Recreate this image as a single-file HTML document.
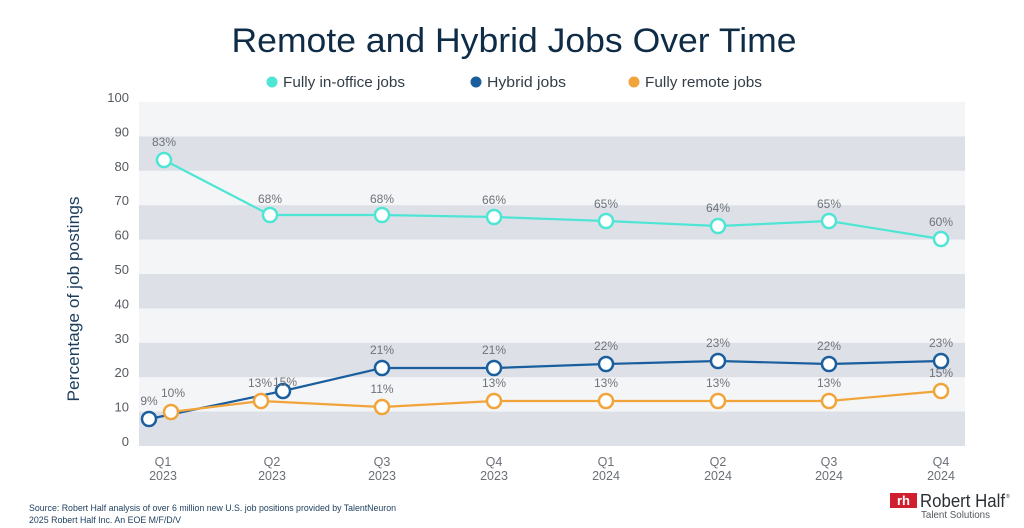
<!DOCTYPE html>
<html><head><meta charset="utf-8"><style>
html,body{margin:0;padding:0;background:#fff;}
svg{display:block;font-family:"Liberation Sans",sans-serif;}
</style></head><body>
<svg width="1024" height="528" viewBox="0 0 1024 528" xmlns="http://www.w3.org/2000/svg">
<rect width="1024" height="528" fill="#fff"/>
<text x="514" y="52" text-anchor="middle" font-size="34" fill="#0f2c47" textLength="565" lengthAdjust="spacingAndGlyphs">Remote and Hybrid Jobs Over Time</text>
<circle cx="272" cy="82" r="5.5" fill="#4fe5d4"/>
<text x="283" y="87" font-size="15" fill="#333d47" textLength="122" lengthAdjust="spacingAndGlyphs">Fully in-office jobs</text>
<circle cx="476" cy="82" r="5.5" fill="#1a5e9e"/>
<text x="487" y="87" font-size="15" fill="#333d47" textLength="79" lengthAdjust="spacingAndGlyphs">Hybrid jobs</text>
<circle cx="634" cy="82" r="5.5" fill="#f0a43a"/>
<text x="645" y="87" font-size="15" fill="#333d47" textLength="117" lengthAdjust="spacingAndGlyphs">Fully remote jobs</text>
<g>
<rect x="139" y="102" width="826" height="344" fill="#f4f5f7"/>
<rect x="139" y="136.4" width="826" height="34.4" fill="#dde1e7"/>
<rect x="139" y="205.2" width="826" height="34.4" fill="#dde1e7"/>
<rect x="139" y="274" width="826" height="34.4" fill="#dde1e7"/>
<rect x="139" y="342.8" width="826" height="34.4" fill="#dde1e7"/>
<rect x="139" y="411.6" width="826" height="34.4" fill="#dde1e7"/>
</g>
<g font-size="13" fill="#555a60" text-anchor="end">
<text x="129" y="102">100</text>
<text x="129" y="136.4">90</text>
<text x="129" y="170.8">80</text>
<text x="129" y="205.2">70</text>
<text x="129" y="239.6">60</text>
<text x="129" y="274">50</text>
<text x="129" y="308.4">40</text>
<text x="129" y="342.8">30</text>
<text x="129" y="377.2">20</text>
<text x="129" y="411.6">10</text>
<text x="129" y="446">0</text>
</g>
<text transform="translate(79,299) rotate(-90)" text-anchor="middle" font-size="17" fill="#1c3d5c" textLength="205" lengthAdjust="spacingAndGlyphs">Percentage of job postings</text>
<g font-size="12.5" fill="#6b7077" text-anchor="middle">
<text x="163" y="466">Q1</text><text x="163" y="480">2023</text>
<text x="272" y="466">Q2</text><text x="272" y="480">2023</text>
<text x="382" y="466">Q3</text><text x="382" y="480">2023</text>
<text x="494" y="466">Q4</text><text x="494" y="480">2023</text>
<text x="606" y="466">Q1</text><text x="606" y="480">2024</text>
<text x="718" y="466">Q2</text><text x="718" y="480">2024</text>
<text x="829" y="466">Q3</text><text x="829" y="480">2024</text>
<text x="941" y="466">Q4</text><text x="941" y="480">2024</text>
</g>
<polyline fill="none" stroke="#4fe5d4" stroke-width="2.2" points="164,160 270,215 382,215 494,217 606,221 718,226 829,221 941,239"/>
<polyline fill="none" stroke="#1a5e9e" stroke-width="2.2" points="149,419 283,391 382,368 494,368 606,364 718,361 829,364 941,361"/>
<polyline fill="none" stroke="#f0a43a" stroke-width="2.2" points="171,412 261,401 382,407 494,401 606,401 718,401 829,401 941,391"/>
<g fill="#fff" stroke="#4fe5d4" stroke-width="2.5">
<circle cx="164" cy="160" r="7"/><circle cx="270" cy="215" r="7"/><circle cx="382" cy="215" r="7"/><circle cx="494" cy="217" r="7"/><circle cx="606" cy="221" r="7"/><circle cx="718" cy="226" r="7"/><circle cx="829" cy="221" r="7"/><circle cx="941" cy="239" r="7"/>
</g>
<g fill="#fff" stroke="#f0a43a" stroke-width="2.5">
<circle cx="171" cy="412" r="7"/><circle cx="261" cy="401" r="7"/><circle cx="382" cy="407" r="7"/><circle cx="494" cy="401" r="7"/><circle cx="606" cy="401" r="7"/><circle cx="718" cy="401" r="7"/><circle cx="829" cy="401" r="7"/><circle cx="941" cy="391" r="7"/>
</g>
<g fill="#fff" stroke="#1a5e9e" stroke-width="2.5">
<circle cx="149" cy="419" r="7"/><circle cx="283" cy="391" r="7"/><circle cx="382" cy="368" r="7"/><circle cx="494" cy="368" r="7"/><circle cx="606" cy="364" r="7"/><circle cx="718" cy="361" r="7"/><circle cx="829" cy="364" r="7"/><circle cx="941" cy="361" r="7"/>
</g>
<g font-size="12" fill="#6e737a" text-anchor="middle">
<text x="164" y="146">83%</text><text x="270" y="203">68%</text><text x="382" y="203">68%</text><text x="494" y="204">66%</text><text x="606" y="208">65%</text><text x="718" y="212">64%</text><text x="829" y="208">65%</text><text x="941" y="226">60%</text>
<text x="149" y="405">9%</text><text x="285" y="386">15%</text><text x="382" y="354">21%</text><text x="494" y="354">21%</text><text x="606" y="350">22%</text><text x="718" y="347">23%</text><text x="829" y="350">22%</text><text x="941" y="347">23%</text>
<text x="173" y="397">10%</text><text x="260" y="387">13%</text><text x="382" y="393">11%</text><text x="494" y="387">13%</text><text x="606" y="387">13%</text><text x="718" y="387">13%</text><text x="829" y="387">13%</text><text x="941" y="377">15%</text>
</g>
<text x="29" y="511" font-size="9.5" fill="#1c3d5c" textLength="367" lengthAdjust="spacingAndGlyphs">Source: Robert Half analysis of over 6 million new U.S. job positions provided by TalentNeuron</text>
<text x="29" y="523" font-size="9.5" fill="#1c3d5c" textLength="152" lengthAdjust="spacingAndGlyphs">2025 Robert Half Inc. An EOE M/F/D/V</text>
<rect x="890" y="493" width="27" height="15" fill="#d0202f"/>
<text x="903.5" y="505" text-anchor="middle" font-size="13" font-weight="bold" fill="#fff">rh</text>
<text x="920" y="507" font-size="18" fill="#2b2f33" textLength="85" lengthAdjust="spacingAndGlyphs">Robert Half</text>
<text x="1006" y="498" font-size="5" fill="#2b2f33">®</text>
<text x="921" y="518" font-size="10.5" fill="#55595e" textLength="69" lengthAdjust="spacingAndGlyphs">Talent Solutions</text>
</svg>
</body></html>
